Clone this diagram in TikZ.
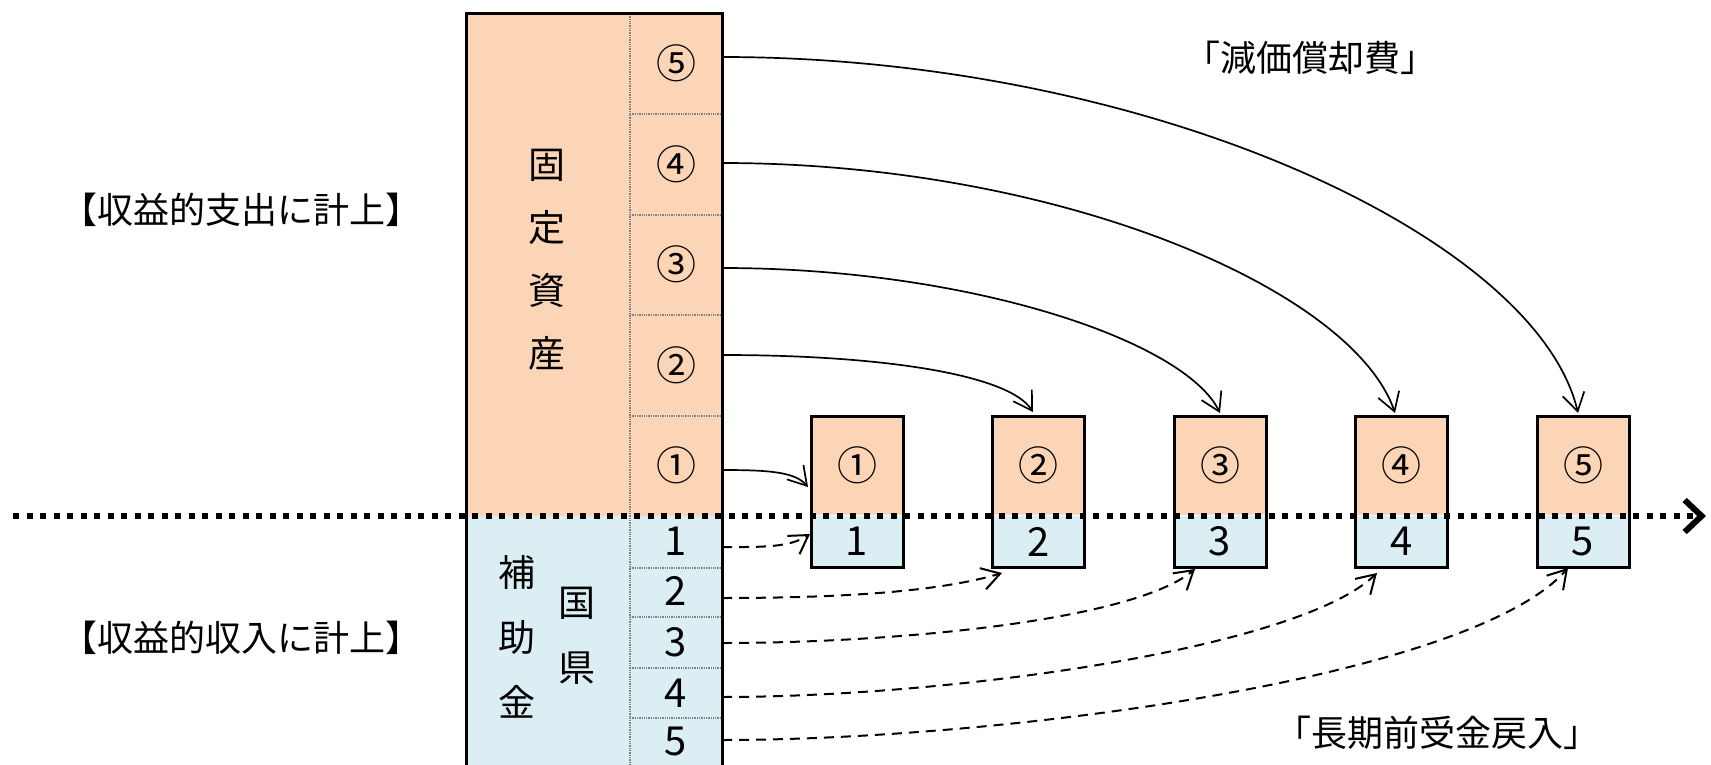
\documentclass[tikz,border=0pt]{standalone}
\usepackage{fontspec}
\setmainfont{Noto Sans CJK JP}
\usetikzlibrary{arrows.meta,calc}
\definecolor{peach}{HTML}{FBD5B5}
\definecolor{lblue}{HTML}{DAEEF3}
\definecolor{divgray}{HTML}{808080}
\begin{document}
\begin{tikzpicture}[x=1pt,y=-1pt,
  font=\fontsize{36}{42}\selectfont,
  txt/.style={inner sep=0pt, outer sep=0pt},
  cell/.style={inner sep=0pt, outer sep=0pt, minimum width=92pt, font=\fontsize{40}{42}\selectfont},
  divider/.style={divgray, line width=1.3pt, densely dotted},
  sol/.style={line width=1.7pt, -{Straight Barb[length=18pt,width=22pt,line width=1.7pt]}},
  dsh/.style={line width=2pt, dash pattern=on 10pt off 7pt, -{Straight Barb[length=18pt,width=22pt,line width=2pt]}},
  timeline/.style={line width=6pt, dash pattern=on 6pt off 7.5pt, -{Straight Barb[length=17pt,width=32pt,line width=6pt]}},
  smallbox/.style={draw, line width=3pt, inner sep=0pt, outer sep=0pt, minimum width=92pt, minimum height=151pt}
]
\path[use as bounding box] (0,0) rectangle (1711,765);
\clip (0,0) rectangle (1711,765);

% big column
\fill[peach] (466,14) rectangle (722,516);
\fill[lblue] (466,516) rectangle (722,790);
\draw[divider] (630,14) -- (630,790);
\foreach \yy in {114,215,315,416,568,617,668,718} {
  \draw[divider] (630,\yy) -- (722,\yy);
}
\node[draw, line width=3pt, inner sep=0pt, outer sep=0pt, minimum width=256pt, minimum height=800pt, anchor=north west] (col) at (466,14) {};

% right column cells (orange)
\node[cell, minimum height=100pt] (r5) at (676,63) {⑤};
\node[cell, minimum height=100pt] (r4) at (676,164) {④};
\node[cell, minimum height=100pt] (r3) at (676,264) {③};
\node[cell, minimum height=100pt] (r2) at (676,365) {②};
\node[cell, minimum height=100pt] (r1) at (676,465) {①};
% right column cells (blue)
\node[cell, minimum height=52pt] (g1) at (676,541) {1};
\node[cell, minimum height=49pt] (g2) at (676,591) {2};
\node[cell, minimum height=51pt] (g3) at (676,642) {3};
\node[cell, minimum height=50pt] (g4) at (676,693) {4};
\node[cell, minimum height=47pt] (g5) at (676,741) {5};

% vertical texts
\node[txt, align=center, font=\fontsize{37}{63}\selectfont] (fa) at (547,260) {固\\定\\資\\産};
\node[txt, align=center, font=\fontsize{37}{65}\selectfont] (hoj) at (517,637) {補\\助\\金};
\node[txt, align=center, font=\fontsize{37}{65}\selectfont] (kk) at (577,635.5) {国\\県};

% small boxes
\foreach \i/\c in {1/①,2/②,3/③,4/④,5/⑤} {
  \pgfmathsetmacro\bx{857+181.5*(\i-1)}
  \node[cell, fill=peach, minimum height=100pt] (u\i) at (\bx,465) {\c};
  \node[cell, fill=lblue, minimum height=51pt] (l\i) at (\bx,541.5) {\i};
  \node[smallbox] (b\i) at (\bx,491.5) {};
}

% labels
\node[txt] (capex) at (241,210) {【収益的支出に計上】};
\node[txt] (rev) at (241,638) {【収益的収入に計上】};
\node[txt] (dep) at (1310,58) {「減価償却費」};
\node[txt] (ltr) at (1437,733) {「長期前受金戻入」};

% solid connectors
\draw[sol] ($(r5.east)+(0,-6)$) .. controls +(428,0) and +(-41,-175) .. ($(b5.north)+(-5,-3)$);
\draw[sol] ($(r4.east)+(0,-1)$) .. controls +(338,0) and +(-42,-123) .. ($(b4.north)+(-6.5,-3)$);
\draw[sol] ($(r3.east)+(0,4)$) .. controls +(248,0) and +(-35,-72) .. ($(b3.north)+(0,-3)$);
\draw[sol] ($(r2.east)+(0,-10)$) .. controls +(158,0) and +(-24,-38) .. ($(b2.north)+(-5.5,-4)$);
\draw[sol] ($(r1.east)+(0,5)$) .. controls +(48,0) and +(-13,-15) .. ($(b1.west)+(-3,-4.5)$);

% dashed connectors
\draw[dsh] ($(g1.east)+(0,6)$) .. controls +(38,0) and +(-21,14) .. ($(b1.west)+(-1,42.5)$);
\draw[dsh] ($(g2.east)+(0,7)$) .. controls +(108,0) and +(-67,20) .. ($(b2.south)+(-36.5,6)$);
\draw[dsh] ($(g3.east)+(0,1)$) .. controls +(178,0) and +(-61,51) .. ($(b3.south)+(-25,2)$);
\draw[dsh] ($(g4.east)+(0,4)$) .. controls +(228,0) and +(-79,76) .. ($(b4.south)+(-24.5,6)$);
\draw[dsh] ($(g5.east)+(0,-1)$) .. controls +(278,0) and +(-98,111) .. ($(b5.south)+(-15,1)$);

% timeline
\coordinate (tl0) at (13,516);
\coordinate (tl1) at (1706,516);
\draw[timeline] (tl0) -- (tl1);
\end{tikzpicture}
\end{document}
